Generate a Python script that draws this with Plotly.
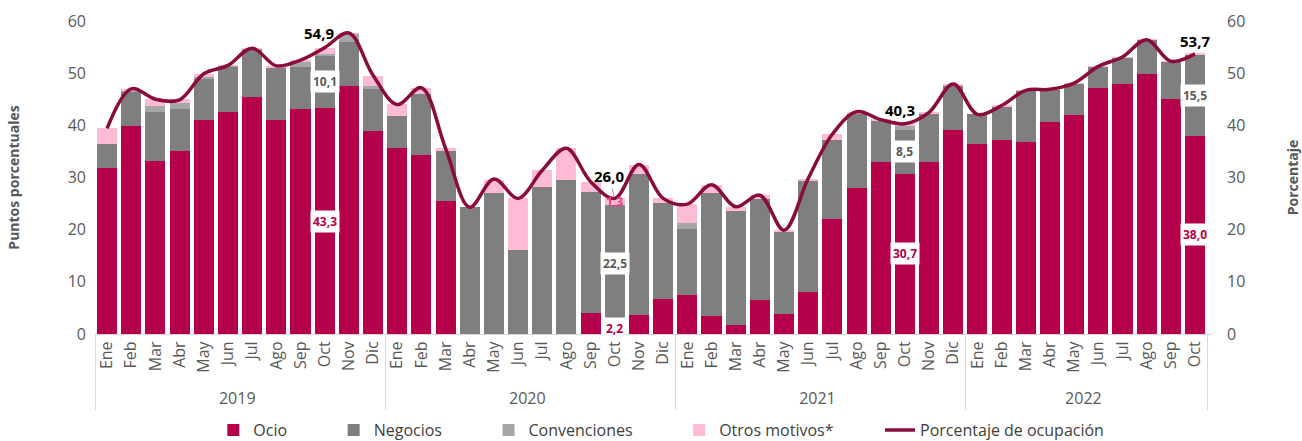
import plotly.graph_objects as go

years = ["2019"] * 12 + ["2020"] * 12 + ["2021"] * 12 + ["2022"] * 10
months_all = ["Ene", "Feb", "Mar", "Abr", "May", "Jun", "Jul", "Ago", "Sep", "Oct", "Nov", "Dic"]
months = months_all * 3 + months_all[:10]

ocio = [31.9, 39.9, 33.2, 35.1, 41.0, 42.6, 45.5, 41.1, 43.2, 43.3, 47.5, 38.9,
        35.6, 34.4, 25.5, 0.0, 0.0, 0.0, 0.0, 0.0, 4.0, 2.2, 3.6, 6.8,
        7.5, 3.5, 1.7, 6.5, 3.8, 8.0, 22.0, 28.0, 33.0, 30.7, 33.0, 39.2,
        36.4, 37.2, 36.9, 40.7, 41.9, 47.2, 48.0, 49.9, 45.1, 38.0]
negocios = [4.5, 6.5, 9.4, 8.0, 7.9, 8.6, 9.1, 9.9, 8.0, 10.1, 8.4, 8.0,
            6.2, 11.6, 9.6, 24.3, 27.0, 16.1, 28.1, 29.5, 23.3, 22.5, 27.1, 18.4,
            12.6, 23.6, 21.9, 19.3, 15.8, 21.5, 15.2, 14.3, 7.9, 8.5, 9.3, 8.5,
            5.7, 6.5, 9.7, 6.2, 6.1, 4.0, 5.0, 6.5, 7.1, 15.5]
convenciones = [0.0, 0.2, 1.1, 1.1, 0.3, 0.2, 0.1, 0.0, 0.9, 0.2, 1.7, 0.6,
                0.0, 0.0, 0.0, 0.0, 0.0, 0.0, 0.0, 0.0, 0.0, 0.0, 0.0, 0.0,
                1.2, 0.0, 0.0, 0.0, 0.0, 0.0, 0.0, 0.0, 0.0, 0.7, 0.0, 0.0,
                0.0, 0.0, 0.0, 0.0, 0.0, 0.0, 0.0, 0.0, 0.0, 0.0]
otros = [3.1, 0.2, 1.3, 0.8, 0.6, 0.1, 0.1, 0.4, 0.4, 1.3, 0.1, 2.0,
         2.3, 1.1, 0.5, 0.0, 2.6, 9.9, 3.3, 6.1, 1.9, 1.3, 1.7, 0.8,
         3.6, 1.5, 0.8, 0.8, 0.3, 0.3, 1.1, 0.3, 0.2, 0.4, 0.2, 0.2,
         0.0, 0.1, 0.1, 0.1, 0.1, 0.1, 0.1, 0.1, 0.1, 0.2]
ocupacion = [39.4, 47.0, 45.0, 44.9, 49.9, 51.5, 54.8, 51.4, 52.5, 54.9, 57.7, 49.6,
             44.0, 47.2, 35.6, 24.3, 29.7, 26.0, 31.4, 35.6, 29.2, 26.0, 32.5, 26.0,
             24.9, 28.6, 24.4, 26.6, 19.9, 29.8, 38.3, 42.6, 41.1, 40.3, 42.5, 47.9,
             42.1, 43.8, 46.7, 46.9, 48.1, 51.3, 53.1, 56.4, 52.3, 53.7]

x = [years, months]

C_OCIO = "#b5004b"
C_NEG = "#7f7f7f"
C_CONV = "#a6a6a6"
C_OTROS = "#ffbad6"
C_LINE = "#8a0c3c"
FONT = "Open Sans"
PAD = "\u00a0" * 10

fig = go.Figure()
for name, vals, col in [("Ocio", ocio, C_OCIO), ("Negocios", negocios, C_NEG),
                        ("Convenciones", convenciones, C_CONV), ("Otros motivos*", otros, C_OTROS)]:
    fig.add_trace(go.Bar(x=x, y=vals, name=name + PAD, marker=dict(color=col, line=dict(width=0)),
                         hoverinfo="skip"))
fig.add_trace(go.Scatter(x=x, y=ocupacion, name="Porcentaje de ocupación", mode="lines",
                         line=dict(color=C_LINE, width=3.5, shape="spline", smoothing=1.0),
                         yaxis="y2"))

ann = []
def box(i, y, text, color, bg=True, size=12):
    ann.append(dict(x=i, y=y, xref="x", yref="y", text="<b>%s</b>" % text, showarrow=False,
                    font=dict(family=FONT, size=size, color=color),
                    bgcolor="white" if bg else None, borderpad=2))

def fmt(v):
    return ("%.1f" % v).replace(".", ",")

lbl_idx = [9, 21, 33, 45]
for i in lbl_idx:
    if ocio[i] > 5:
        box(i, ocio[i] / 2, fmt(ocio[i]), C_OCIO)
    box(i, ocio[i] + negocios[i] / 2, fmt(negocios[i]), "#595959")
box(21, 1.0, fmt(ocio[21]), C_OCIO)
box(21, ocio[21] + negocios[21] + otros[21] / 2, fmt(otros[21]), "#e8407f", bg=False)

for i, dx, dy in [(9, -6, 2.8), (33, -5, 2.7), (45, 0, 2.4)]:
    ann.append(dict(x=i + dx / 24.3, y=ocupacion[i] + dy, xref="x", yref="y",
                    text="<b>%s</b>" % fmt(ocupacion[i]), showarrow=False,
                    font=dict(family=FONT, size=15, color="black")))
ann.append(dict(x=21, y=ocupacion[21], xref="x", yref="y2", ax=-6, ay=-22,
                text="<b>%s</b>" % fmt(ocupacion[21]), showarrow=True,
                arrowhead=0, arrowcolor="#a0a0a0", arrowwidth=1, standoff=2,
                font=dict(family=FONT, size=15, color="black")))

fig.update_layout(
    barmode="stack", bargap=0.17,
    width=1302, height=441,
    margin=dict(l=95, r=90, t=21, b=107, autoexpand=False),
    paper_bgcolor="white", plot_bgcolor="white",
    font=dict(family=FONT, color="#595959", size=14),
    showlegend=True,
    legend=dict(orientation="h", x=0.507, xanchor="center", yref="container", y=0.025,
                yanchor="middle", font=dict(size=16, color="#404040"), traceorder="normal",
                itemwidth=30),
    annotations=ann,
    xaxis=dict(type="multicategory", tickangle=-90, showline=True, linecolor="#d9d9d9",
               showdividers=True, dividercolor="#d9d9d9", dividerwidth=1,
               tickfont=dict(size=16, color="#595959"), automargin=False, ticks=""),
    yaxis=dict(range=[0, 60], dtick=10, showgrid=False, zeroline=False, showline=False,
               tickfont=dict(size=16, color="#595959"), ticks="", automargin=False,
               ticklabelstandoff=8,
               title=dict(text="<b>Puntos porcentuales</b>", font=dict(size=14, color="#595959"),
                          standoff=44)),
    yaxis2=dict(range=[0, 60], dtick=10, overlaying="y", side="right", showgrid=False,
                zeroline=False, showline=False, ticks="", automargin=False,
                ticklabelstandoff=14,
                tickfont=dict(size=16, color="#595959"),
                title=dict(text="<b>Porcentaje</b>", font=dict(size=14, color="#595959"),
                           standoff=44)),
)

fig.write_html("out.html")
